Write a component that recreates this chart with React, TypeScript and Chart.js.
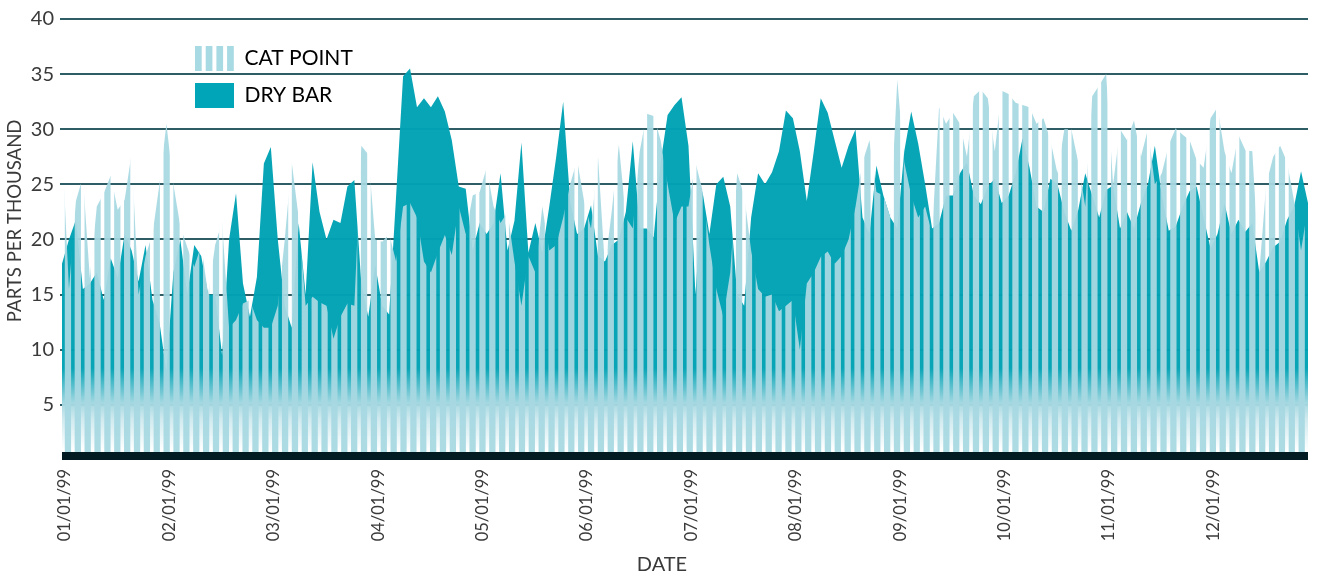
import React, { useEffect, useRef } from "react";
import { Chart, registerables } from "chart.js";

Chart.register(...registerables);

const monthStarts = [
  "01/01/99", "02/01/99", "03/01/99", "04/01/99", "05/01/99", "06/01/99",
  "07/01/99", "08/01/99", "09/01/99", "10/01/99", "11/01/99", "12/01/99",
];
const samplesPerMonth = 15;
const categories = monthStarts.flatMap((m) => [m, ...Array(samplesPerMonth - 1).fill("")]);

const yTickValues = [5, 10, 15, 20, 25, 30, 35, 40];

const catPoint = [
  28.7, 15.5, 23.5, 25.7, 16.5, 23, 24.2, 25.8, 22.7, 23.6,
  27.8, 15, 18.5, 20.5, 25, 30.5, 25, 21.2, 19.3, 17.5,
  19.5, 15, 19.5, 21.6, 12, 12.7, 14.2, 14.5, 12.7, 12,
  12, 14, 20, 27, 22, 14, 14.8, 14.3, 14, 11,
  13, 14.2, 14, 28.5, 27.7, 20, 19.8, 20.5, 18, 23,
  23.3, 22, 18, 17, 18.8, 20.4, 18.6, 23, 20.5, 24,
  24.3, 26.5, 23, 21.5, 22.5, 18, 14, 18.5, 17, 23,
  19, 19.5, 22, 25, 27.2, 23.5, 21, 27.5, 17.5, 22.7,
  28.6, 22, 21, 28, 31.4, 31.2, 29, 25, 21.5, 23,
  23, 27, 24.5, 19.5, 15.5, 13, 17, 26, 24, 19,
  15.5, 14.8, 15, 13.5, 14, 14.5, 10, 16, 17, 18.4,
  18.9, 17.8, 18.5, 20, 23, 27, 29, 24.3, 24, 22,
  34.5, 27, 24, 22, 23, 20.5, 32, 30.5, 31.5, 30.5,
  27.5, 33, 33.6, 32.8, 28, 33.5, 33.2, 32.4, 32.2, 32,
  30.5, 31, 29, 26, 30, 30, 27, 23, 33, 34,
  35, 25, 30, 29, 30.8, 27.5, 30, 25, 26, 28.6,
  30.1, 29.5, 29, 27.2, 26.5, 31, 32, 28, 26, 29.5,
  28.1, 28, 17, 25, 27.5, 28.5, 27, 23.5, 19, 23,
];

const dryBar = [
  17.8, 20, 21.8, 15.5, 16, 17, 14.5, 18.3, 16.5, 20.5,
  19, 16.2, 19.5, 14.5, 12.5, 8, 17, 20, 15, 19.5,
  18.5, 15, 15, 9.5, 20, 24.2, 16, 13, 16.6, 26.9,
  28.4, 20, 14, 12, 21.5, 15, 27, 22.5, 20, 21.8,
  21.5, 24.8, 25.4, 16, 13, 17.7, 14, 13.2, 24, 34.8,
  35.5, 32, 32.8, 32, 33, 31.6, 29, 24.8, 24.6, 19,
  21.5, 20.5, 21.5, 26, 19, 21.7, 28.8, 18.8, 21.5, 18.8,
  23, 27.5, 32.5, 23.5, 20.5, 21, 23.1, 18.5, 18, 19.5,
  20, 22.5, 28.9, 21, 21, 20.2, 27, 31.3, 32.2, 32.9,
  28.5, 15, 24.4, 20.5, 25, 25.7, 23, 15, 14, 22,
  26, 25, 26.1, 28, 31.7, 31, 28, 23.5, 28, 32.8,
  31.5, 29, 26.5, 28.5, 30, 22, 20.5, 26.7, 24, 22,
  21, 28, 31.6, 28.7, 25, 21, 21.5, 24, 24, 26,
  27, 24, 23.2, 24.8, 25.5, 23.3, 24, 26, 29.2, 26.5,
  23, 22.5, 25.5, 25, 22.5, 20.8, 22.7, 26, 24, 22,
  24.5, 24.9, 21, 22.5, 21, 23.3, 25, 28.5, 24, 20.8,
  21.2, 23, 24.4, 24.8, 22, 19.2, 20.5, 23.3, 20.5, 21.8,
  20.7, 21.5, 17, 18, 19.3, 19.8, 21.8, 23, 26.2, 23.3,
];

const FONT = "Lato, 'Open Sans', sans-serif";
const TEXT = "#3a3a3a";
const GRID = "#2f5d66";
const STRIPE = "rgba(168,217,226,0.94)";

function stripedPattern(ctx: CanvasRenderingContext2D, w: number, period: number, gap: number, phase: number, color: string) {
  const c = document.createElement("canvas");
  c.width = w;
  c.height = 4;
  const g = c.getContext("2d")!;
  g.fillStyle = color;
  for (let x = phase - period; x < w; x += period) {
    g.fillRect(x + gap / 2, 0, period - gap, 4);
  }
  return ctx.createPattern(c, "repeat");
}

const legendPlacement = {
  id: "legendPlacement",
  afterLayout(chart: any) {
    const l = chart.legend;
    const p = l.options.labels.padding;
    l.left = 195 - p;
    l.top = 46 - p;
    l.right = 400;
    l.bottom = 120;
    l.width = l.right - l.left;
    l.height = l.bottom - l.top;
  },
};

const baseBar = {
  id: "baseBar",
  afterDatasetsDraw(chart: any) {
    const { ctx, chartArea } = chart;
    ctx.save();
    ctx.fillStyle = "#021b22";
    ctx.fillRect(chartArea.left, chartArea.bottom - 4, chartArea.right - chartArea.left, 8);
    ctx.restore();
  },
};

export default function App() {
  const ref = useRef<HTMLCanvasElement>(null);
  useEffect(() => {
    const canvas = ref.current!;
    const ctx = canvas.getContext("2d")!;
    const catFill = stripedPattern(ctx, canvas.width, 9.87, 3.6, 63, STRIPE);
    const legendFill = stripedPattern(ctx, canvas.width, 10.7, 4, 193, "#a8dae3");

    const dryFill = ctx.createLinearGradient(0, 368, 0, 450);
    dryFill.addColorStop(0, "rgba(0,162,180,0.97)");
    dryFill.addColorStop(0.45, "rgba(168,217,226,0.96)");
    dryFill.addColorStop(0.62, "rgba(205,233,238,0.95)");
    dryFill.addColorStop(1, "rgba(255,255,255,1)");

    const chart = new Chart(canvas, {
      type: "line",
      data: {
        labels: categories,
        datasets: [
          { label: "CAT POINT", data: catPoint, backgroundColor: catFill as any, borderWidth: 0, pointRadius: 0, fill: "start", tension: 0 },
          { label: "DRY BAR", data: dryBar, backgroundColor: dryFill as any, borderWidth: 0, pointRadius: 0, fill: "start", tension: 0 },
        ],
      },
      options: {
        animation: false,
        responsive: false,
        devicePixelRatio: 1,
        layout: { padding: { top: 19, right: 15, left: 0, bottom: 0 } },
        plugins: {
          tooltip: { enabled: false },
          legend: {
            position: "chartArea" as any,
            align: "start",
            labels: {
              boxWidth: 39,
              boxHeight: 25,
              padding: 12,
              color: TEXT,
              font: { family: FONT, size: 21 },
              generateLabels: () => [
                { text: "CAT POINT", fillStyle: legendFill as any, strokeStyle: "transparent", lineWidth: 0, hidden: false, datasetIndex: 0 },
                { text: "DRY BAR", fillStyle: "#00a6b8", strokeStyle: "transparent", lineWidth: 0, hidden: false, datasetIndex: 1 },
              ],
            },
          },
        },
        scales: {
          x: {
            type: "category",
            offset: false,
            grid: { display: false },
            border: { display: false },
            afterFit: (s: any) => { s.height = 125; s.paddingRight = 0; s.paddingLeft = 0; },
            ticks: {
              autoSkip: false,
              minRotation: 90,
              maxRotation: 90,
              padding: 5,
              labelOffset: 3,
              color: TEXT,
              font: { family: FONT, size: 16.5 },
            },
            title: {
              display: true,
              text: "DATE" + "\u00A0".repeat(9),
              color: TEXT,
              font: { family: FONT, size: 20 },
              padding: { top: 0, bottom: 4 },
            },
          },
          y: {
            min: 0.36,
            max: 40,
            afterFit: (s: any) => { s.width = 62; },
            afterBuildTicks: (s: any) => { s.ticks = yTickValues.map((value) => ({ value })); },
            grid: { color: GRID, lineWidth: 2, tickLength: 2, drawTicks: true },
            border: { display: false },
            ticks: { color: TEXT, padding: 6, font: { family: FONT, size: 20 } },
            title: {
              display: true,
              text: "\u00A0".repeat(7) + "PARTS PER THOUSAND",
              color: TEXT,
              font: { family: FONT, size: 18.6 },
              padding: { top: 4, bottom: 0 },
            },
          },
        },
      },
      plugins: [legendPlacement, baseBar],
    });
    return () => chart.destroy();
  }, []);
  return (
    <div style={{ position: "absolute", left: 0, top: 0, width: 1323, height: 581 }}>
      <canvas ref={ref} width={1323} height={581} style={{ display: "block" }} />
    </div>
  );
}
